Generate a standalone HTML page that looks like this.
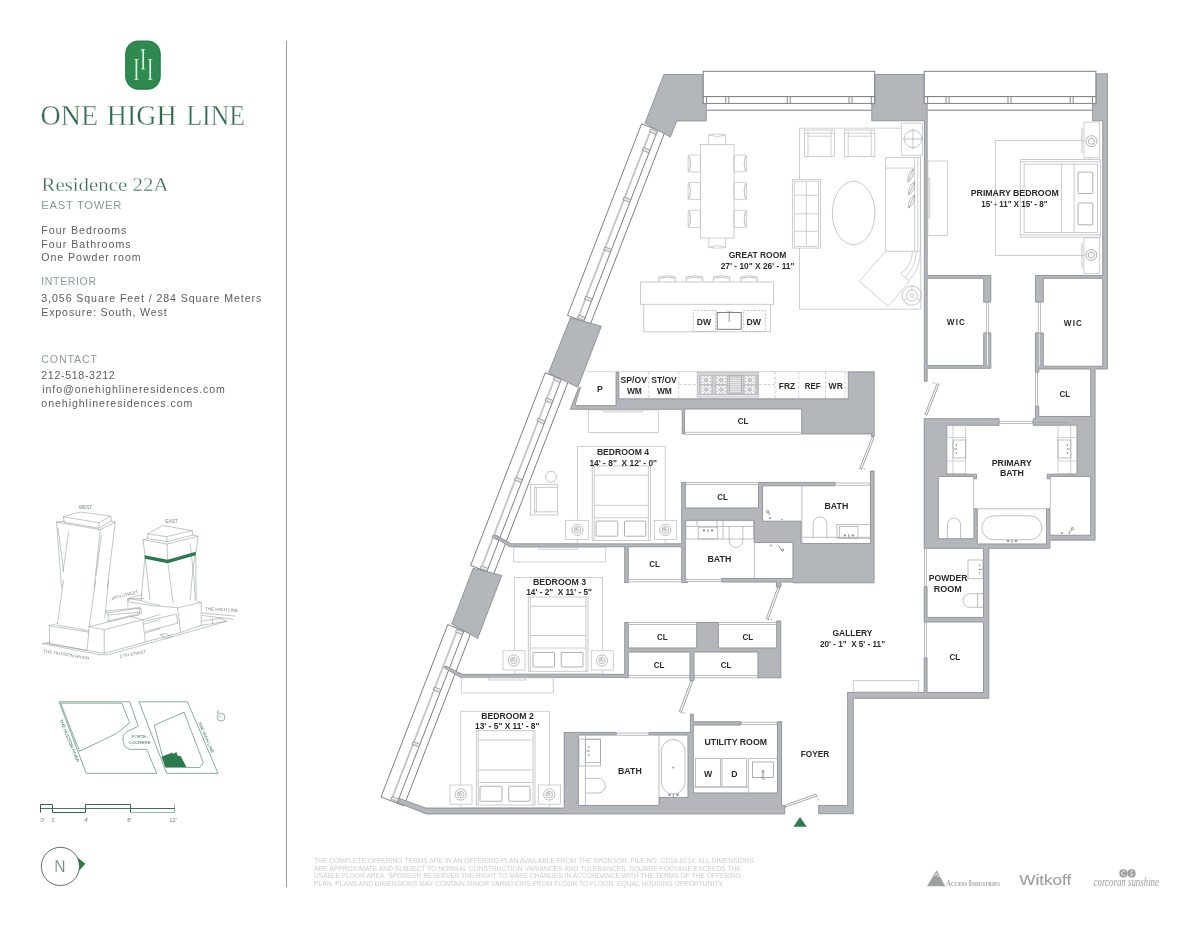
<!DOCTYPE html>
<html lang="en"><head><meta charset="utf-8"><title>One High Line - Residence 22A</title>
<style>
html,body{margin:0;padding:0;background:#fff;}
body{width:1200px;height:927px;overflow:hidden;font-family:"Liberation Sans",sans-serif;}
svg{display:block;will-change:transform;}
text{white-space:pre;}
.lb{font-family:"Liberation Sans",sans-serif;font-weight:bold;fill:#2b2b2b;text-anchor:middle;}
</style></head><body>
<svg width="1200" height="927" viewBox="0 0 1200 927">
<rect width="1200" height="927" fill="#fff"/>
<g id="left-panel">
<line x1="286.5" y1="41" x2="286.5" y2="887" stroke="#9b9da0" stroke-width="1"/>
<rect x="125.1" y="40.6" width="35.7" height="49.1" rx="13" ry="13.6" fill="#2f8a4f"/>
<rect x="126" y="41.5" width="33.9" height="47.3" rx="12.2" ry="12.8" fill="none" stroke="#27784a" stroke-width="0.6"/>
<path d="M136.4 59.3 V79.7" stroke="#dcfbe2" stroke-width="1.7" fill="none"/>
<path d="M134.2 59.6 h4.4 M134.2 79.4 h4.4" stroke="#d9f7df" stroke-width="0.7" fill="none"/>
<path d="M143.2 49.3 V69.2" stroke="#dcfbe2" stroke-width="1.7" fill="none"/>
<path d="M141 49.6 h4.4 M141 68.9 h4.4" stroke="#d9f7df" stroke-width="0.7" fill="none"/>
<path d="M150.2 59.3 V79.7" stroke="#dcfbe2" stroke-width="1.7" fill="none"/>
<path d="M148 59.6 h4.4 M148 79.4 h4.4" stroke="#d9f7df" stroke-width="0.7" fill="none"/>
<path d="M141.2 51.4 l2 -2" stroke="#d9f7df" stroke-width="0.9" fill="none"/>
<text x="40.6" y="125.4" font-family='"Liberation Serif", serif' font-size="29.6" fill="#2f6a4c" textLength="57.5" lengthAdjust="spacingAndGlyphs" stroke="#fff" stroke-width="0.4">ONE</text>
<text x="106.8" y="125.4" font-family='"Liberation Serif", serif' font-size="29.6" fill="#2f6a4c" textLength="70" lengthAdjust="spacingAndGlyphs" stroke="#fff" stroke-width="0.4">HIGH</text>
<text x="186.4" y="125.4" font-family='"Liberation Serif", serif' font-size="29.6" fill="#2f6a4c" textLength="58.6" lengthAdjust="spacingAndGlyphs" stroke="#fff" stroke-width="0.4">LINE</text>
<text x="41.5" y="190.7" font-family='"Liberation Serif", serif' font-size="18.3" fill="#3d6a54" textLength="127" lengthAdjust="spacingAndGlyphs" stroke="#fff" stroke-width="0.3">Residence 22A</text>
<text x="41.3" y="209.3" font-family='"Liberation Sans", sans-serif' font-size="11.2" fill="#8a9b93" textLength="80" lengthAdjust="spacing">EAST TOWER</text>
<text x="41.3" y="234" font-family='"Liberation Sans", sans-serif' font-size="10.6" fill="#5a5d5c" textLength="85" lengthAdjust="spacing">Four Bedrooms</text>
<text x="41.3" y="247.8" font-family='"Liberation Sans", sans-serif' font-size="10.6" fill="#5a5d5c" textLength="89.3" lengthAdjust="spacing">Four Bathrooms</text>
<text x="41.3" y="261.2" font-family='"Liberation Sans", sans-serif' font-size="10.6" fill="#5a5d5c" textLength="99.3" lengthAdjust="spacing">One Powder room</text>
<text x="41.3" y="284.8" font-family='"Liberation Sans", sans-serif' font-size="10.6" fill="#8a9b93" textLength="54.8" lengthAdjust="spacing">INTERIOR</text>
<text x="41.3" y="302.4" font-family='"Liberation Sans", sans-serif' font-size="10.6" fill="#5a5d5c" textLength="220" lengthAdjust="spacing">3,056 Square Feet / 284 Square Meters</text>
<text x="41.3" y="316" font-family='"Liberation Sans", sans-serif' font-size="10.6" fill="#5a5d5c" textLength="125.3" lengthAdjust="spacing">Exposure: South, West</text>
<text x="41.3" y="363.2" font-family='"Liberation Sans", sans-serif' font-size="10.6" fill="#8a9b93" textLength="55.7" lengthAdjust="spacing">CONTACT</text>
<text x="41.3" y="378.9" font-family='"Liberation Sans", sans-serif' font-size="10.6" fill="#5a5d5c" textLength="73.4" lengthAdjust="spacing">212-518-3212</text>
<text x="42.3" y="393.2" font-family='"Liberation Sans", sans-serif' font-size="10.6" fill="#5a5d5c" textLength="182.6" lengthAdjust="spacing">info@onehighlineresidences.com</text>
<text x="41.3" y="406.8" font-family='"Liberation Sans", sans-serif' font-size="10.6" fill="#5a5d5c" textLength="151" lengthAdjust="spacing">onehighlineresidences.com</text>
<g id="tower-sketch">
<polygon points="63.58,516.57 80.13,512.06 110.73,516.07 99.2,522.59" fill="none" stroke="#8c9993" stroke-width="0.55" stroke-linejoin="round" stroke-linecap="round"/>
<polyline points="63.58,516.57 64.08,522.09 98.69,528.11 99.2,522.59" fill="none" stroke="#8c9993" stroke-width="0.55" stroke-linejoin="round" stroke-linecap="round"/>
<polyline points="98.69,528.11 111.24,520.89 110.73,516.07" fill="none" stroke="#8c9993" stroke-width="0.55" stroke-linejoin="round" stroke-linecap="round"/>
<polyline points="64.08,521.29 56.55,522.09 100.2,529.61 115.25,522.09 111.24,520.89" fill="none" stroke="#8c9993" stroke-width="0.55" stroke-linejoin="round" stroke-linecap="round"/>
<polyline points="56.55,522.09 61.57,588.01" fill="none" stroke="#8c9993" stroke-width="0.55" stroke-linejoin="round" stroke-linecap="round"/>
<polyline points="68.59,532.12 63.08,571.25" fill="none" stroke="#8c9993" stroke-width="0.55" stroke-linejoin="round" stroke-linecap="round"/>
<polyline points="58.06,528.11 63.58,571.25" fill="none" stroke="#8c9993" stroke-width="0.55" stroke-linejoin="round" stroke-linecap="round"/>
<polyline points="100.2,529.61 94.18,588.01" fill="none" stroke="#8c9993" stroke-width="0.55" stroke-linejoin="round" stroke-linecap="round"/>
<polyline points="115.25,522.09 107.22,588.01" fill="none" stroke="#8c9993" stroke-width="0.55" stroke-linejoin="round" stroke-linecap="round"/>
<polyline points="101.4,535.13 96.19,575.26" fill="none" stroke="#8c9993" stroke-width="0.55" stroke-linejoin="round" stroke-linecap="round"/>
<polyline points="63.58,580 57.56,623.64" fill="none" stroke="#8c9993" stroke-width="0.55" stroke-linejoin="round" stroke-linecap="round"/>
<polyline points="95.68,580 89.16,626.65 87.16,650.23" fill="none" stroke="#8c9993" stroke-width="0.55" stroke-linejoin="round" stroke-linecap="round"/>
<polyline points="108.73,580 104.71,618.13" fill="none" stroke="#8c9993" stroke-width="0.55" stroke-linejoin="round" stroke-linecap="round"/>
<polyline points="57.56,623.64 49.53,625.65 49.53,643.71 86.15,650.23" fill="none" stroke="#8c9993" stroke-width="0.55" stroke-linejoin="round" stroke-linecap="round"/>
<polyline points="49.53,625.65 88.66,632.17" fill="none" stroke="#8c9993" stroke-width="0.55" stroke-linejoin="round" stroke-linecap="round"/>
<polyline points="57.56,625.15 88.66,630.67" fill="none" stroke="#8c9993" stroke-width="0.55" stroke-linejoin="round" stroke-linecap="round"/>
<polyline points="89.16,626.65 104.21,629.66 104.21,653.24 145.35,642.21 142.84,619.63 104.21,629.66" fill="none" stroke="#8c9993" stroke-width="0.55" stroke-linejoin="round" stroke-linecap="round"/>
<polyline points="89.16,626.65 130.3,616.62 142.84,619.63" fill="none" stroke="#8c9993" stroke-width="0.55" stroke-linejoin="round" stroke-linecap="round"/>
<polyline points="42.51,643.71 49.53,642.21" fill="none" stroke="#8c9993" stroke-width="0.55" stroke-linejoin="round" stroke-linecap="round"/>
<polyline points="42.51,643.71 100.2,654.75 108.23,654.75 160,640.2 226.8,621.2" fill="none" stroke="#8c9993" stroke-width="0.55" stroke-linejoin="round" stroke-linecap="round"/>
<polyline points="46.02,643.01 101.2,653.04 104.21,653.24" fill="none" stroke="#8c9993" stroke-width="0.55" stroke-linejoin="round" stroke-linecap="round"/>
<polyline points="106.22,611.1 139.83,607.59 139.33,612.11 108.23,615.12 106.22,611.1" fill="none" stroke="#8c9993" stroke-width="0.55" stroke-linejoin="round" stroke-linecap="round"/>
<polyline points="108.23,615.12 108.23,621.14" fill="none" stroke="#8c9993" stroke-width="0.55" stroke-linejoin="round" stroke-linecap="round"/>
<polyline points="139.33,612.11 138.83,615.12 130.3,616.62" fill="none" stroke="#8c9993" stroke-width="0.55" stroke-linejoin="round" stroke-linecap="round"/>
<polyline points="127.79,606.59 127.79,598.56 141.84,594.55" fill="none" stroke="#8c9993" stroke-width="0.55" stroke-linejoin="round" stroke-linecap="round"/>
<polyline points="127.79,598.56 141.33,600.57 150.36,603.58 160,605.08" fill="none" stroke="#8c9993" stroke-width="0.55" stroke-linejoin="round" stroke-linecap="round"/>
<polyline points="142.84,619.63 160,614.61" fill="none" stroke="#8c9993" stroke-width="0.55" stroke-linejoin="round" stroke-linecap="round"/>
<polyline points="143.84,624.15 160,619.63" fill="none" stroke="#8c9993" stroke-width="0.55" stroke-linejoin="round" stroke-linecap="round"/>
<polyline points="144.85,633.18 160,628.66" fill="none" stroke="#8c9993" stroke-width="0.55" stroke-linejoin="round" stroke-linecap="round"/>
<polygon points="148.06,533.58 162.61,525.55 192.21,530.57 166.62,536.59" fill="none" stroke="#8c9993" stroke-width="0.55" stroke-linejoin="round" stroke-linecap="round"/>
<polyline points="148.06,533.58 147.56,538.59 167.12,541.6 166.62,536.59" fill="none" stroke="#8c9993" stroke-width="0.55" stroke-linejoin="round" stroke-linecap="round"/>
<polyline points="167.12,541.6 192.71,535.08 192.21,530.57" fill="none" stroke="#8c9993" stroke-width="0.55" stroke-linejoin="round" stroke-linecap="round"/>
<polyline points="147.56,538.59 143.04,539.6 167.12,544.11 198.23,536.29 192.71,535.08" fill="none" stroke="#8c9993" stroke-width="0.55" stroke-linejoin="round" stroke-linecap="round"/>
<polyline points="143.04,539.6 145.05,555.65 141.04,600.3" fill="none" stroke="#8c9993" stroke-width="0.55" stroke-linejoin="round" stroke-linecap="round"/>
<polyline points="145.05,555.65 150.07,600.3" fill="none" stroke="#8c9993" stroke-width="0.55" stroke-linejoin="round" stroke-linecap="round"/>
<polyline points="167.12,544.11 167.62,561.17 173.14,603.01" fill="none" stroke="#8c9993" stroke-width="0.55" stroke-linejoin="round" stroke-linecap="round"/>
<polyline points="198.23,536.29 195.72,552.14 196.22,600.3" fill="none" stroke="#8c9993" stroke-width="0.55" stroke-linejoin="round" stroke-linecap="round"/>
<polyline points="190.2,544.11 194.21,580.23 195.22,600.3" fill="none" stroke="#8c9993" stroke-width="0.55" stroke-linejoin="round" stroke-linecap="round"/>
<polyline points="195.72,552.14 192.71,570.2 190.2,600.3" fill="none" stroke="#8c9993" stroke-width="0.55" stroke-linejoin="round" stroke-linecap="round"/>
<polygon points="144.55,555.15 167.62,559.66 195.72,551.64 195.72,555.15 167.62,563.18 145.05,558.66" fill="#2d7a4c"/>
<polyline points="143.8,598.67 128.42,598.67 128.42,601.75 153.03,605.85 173.53,607.29" fill="none" stroke="#8c9993" stroke-width="0.55" stroke-linejoin="round" stroke-linecap="round"/>
<polyline points="173.53,607.29 177.63,607.9 201.21,602.36 201.21,625.33 180.71,632.51 177.63,607.9" fill="none" stroke="#8c9993" stroke-width="0.55" stroke-linejoin="round" stroke-linecap="round"/>
<polyline points="197.11,601.75 201.21,602.36" fill="none" stroke="#8c9993" stroke-width="0.55" stroke-linejoin="round" stroke-linecap="round"/>
<polyline points="106.89,613.03 140.72,607.9 141.75,613.03 107.92,621.23" fill="none" stroke="#8c9993" stroke-width="0.55" stroke-linejoin="round" stroke-linecap="round"/>
<polyline points="144.82,621.23 176.61,614.05 177.63,623.28 145.85,631.48" fill="none" stroke="#8c9993" stroke-width="0.55" stroke-linejoin="round" stroke-linecap="round"/>
<polyline points="180.71,632.51 145.85,641.73" fill="none" stroke="#8c9993" stroke-width="0.55" stroke-linejoin="round" stroke-linecap="round"/>
<polyline points="201.21,625.33 226.84,621.23 220.69,618.15 201.21,621.23" fill="none" stroke="#8c9993" stroke-width="0.55" stroke-linejoin="round" stroke-linecap="round"/>
<polyline points="202.24,613.03 235.04,616.1" fill="none" stroke="#8c9993" stroke-width="0.55" stroke-linejoin="round" stroke-linecap="round"/>
<polyline points="202.24,615.49 232.99,619.18" fill="none" stroke="#8c9993" stroke-width="0.55" stroke-linejoin="round" stroke-linecap="round"/>
<polyline points="212.49,619.18 212.49,624.3" fill="none" stroke="#8c9993" stroke-width="0.55" stroke-linejoin="round" stroke-linecap="round"/>
<polyline points="160.2,634.56 165.33,633.53 171.48,636.61 166.35,638.66 160.2,634.56" fill="none" stroke="#8c9993" stroke-width="0.55" stroke-linejoin="round" stroke-linecap="round"/>
<text x="85.4" y="508.6" font-family='"Liberation Sans", sans-serif' font-size="4.8" fill="#76867e" text-anchor="middle" transform="rotate(0 85.4 508.6)" textLength="13.5" lengthAdjust="spacingAndGlyphs">WEST</text>
<text x="171.5" y="523" font-family='"Liberation Sans", sans-serif' font-size="4.8" fill="#76867e" text-anchor="middle" transform="rotate(0 171.5 523)" textLength="12.5" lengthAdjust="spacingAndGlyphs">EAST</text>
<text x="125" y="596.5" font-family='"Liberation Sans", sans-serif' font-size="4.3" fill="#76867e" text-anchor="middle" transform="rotate(-14 125 596.5)" textLength="28" lengthAdjust="spacingAndGlyphs">18TH STREET</text>
<text x="221.5" y="611" font-family='"Liberation Sans", sans-serif' font-size="4.3" fill="#76867e" text-anchor="middle" transform="rotate(3 221.5 611)" textLength="33" lengthAdjust="spacingAndGlyphs">THE HIGH LINE</text>
<text x="66" y="656" font-family='"Liberation Sans", sans-serif' font-size="4.3" fill="#76867e" text-anchor="middle" transform="rotate(9 66 656)" textLength="47" lengthAdjust="spacingAndGlyphs">THE HUDSON RIVER</text>
<text x="133" y="655.5" font-family='"Liberation Sans", sans-serif' font-size="4.3" fill="#76867e" text-anchor="middle" transform="rotate(-10 133 655.5)" textLength="27" lengthAdjust="spacingAndGlyphs">17TH STREET</text>
</g>
<g id="site-plan">
<polygon points="59.45,701.78 129.68,701.78 138.29,726.25 126.96,731.46 123.34,735.31 122.89,740.97 125.15,746.64 129.68,749.36 146.67,749.36 156.87,773.37 86.64,773.37" fill="none" stroke="#3a7558" stroke-width="0.6" stroke-linejoin="round" stroke-linecap="round"/>
<polygon points="61.04,703.14 121.75,703.14 129.68,722.85 116.54,733.5 79.84,751.17" fill="none" stroke="#3a7558" stroke-width="0.6" stroke-linejoin="round" stroke-linecap="round"/>
<polygon points="139.42,701.78 187.45,701.78 218.04,773.37 167.06,773.37" fill="none" stroke="#3a7558" stroke-width="0.6" stroke-linejoin="round" stroke-linecap="round"/>
<polygon points="154.6,725.12 184.06,712.2 203.31,762.5 199.91,767.48 165.93,767.48" fill="none" stroke="#3a7558" stroke-width="0.6" stroke-linejoin="round" stroke-linecap="round"/>
<polygon points="161.4,756.83 172.27,752.53 173.18,753.89 176.35,752.08 177.71,755.7 180.88,756.15 186.32,767.03 165.48,767.03" fill="#2d7a4c"/>
<circle cx="220.98" cy="717.19" r="3.9" fill="none" stroke="#3a7558" stroke-width="0.55"/>
<line x1="221" y1="717.2" x2="218.5" y2="716.4" stroke="#3a7558" stroke-width="0.5"/>
<text x="216.8" y="712" font-family='"Liberation Sans", sans-serif' font-size="3.6" fill="#2f6a4c" text-anchor="middle" transform="rotate(80 216.8 712)">N</text>
<text x="68.2" y="741.3" font-family='"Liberation Sans", sans-serif' font-size="4.3" fill="#2f6a4c" text-anchor="middle" transform="rotate(68 68.2 741.3)" textLength="46" lengthAdjust="spacingAndGlyphs">THE HUDSON RIVER</text>
<text x="204.7" y="738" font-family='"Liberation Sans", sans-serif' font-size="4.3" fill="#2f6a4c" text-anchor="middle" transform="rotate(66 204.7 738)" textLength="33.5" lengthAdjust="spacingAndGlyphs">THE HIGH LINE</text>
<text x="139.6" y="738" font-family='"Liberation Sans", sans-serif' font-size="4.1" fill="#2f6a4c" text-anchor="middle" transform="rotate(0 139.6 738)" textLength="16" lengthAdjust="spacingAndGlyphs">PORTE-</text>
<text x="139.6" y="743.8" font-family='"Liberation Sans", sans-serif' font-size="4.1" fill="#2f6a4c" text-anchor="middle" transform="rotate(0 139.6 743.8)" textLength="22" lengthAdjust="spacingAndGlyphs">COCHERE</text>
</g>
<g id="scale-bar">
<path d="M130.5 812.5 H174.5 M130.5 808.5 H174.5 M174.5 803.7 V812.5" fill="none" stroke="#86a294" stroke-width="0.8"/>
<path d="M40.5 812.5 V804.5 H52.5 V812.5 H85.5 V804.5 H130.5 V812.5" fill="none" stroke="#2f6a4c" stroke-width="1"/>
<path d="M40.5 808.5 H174.5" fill="none" stroke="#2f6a4c" stroke-width="0.9"/>
<text x="40.6" y="822.3" font-family='"Liberation Sans", sans-serif' font-size="5.8" fill="#74807a" text-anchor="start" transform="rotate(0 40.6 822.3)">0'</text>
<text x="53.3" y="822.3" font-family='"Liberation Sans", sans-serif' font-size="5.8" fill="#74807a" text-anchor="middle" transform="rotate(0 53.3 822.3)">1'</text>
<text x="86.3" y="822.3" font-family='"Liberation Sans", sans-serif' font-size="5.8" fill="#74807a" text-anchor="middle" transform="rotate(0 86.3 822.3)">4'</text>
<text x="129.4" y="822.3" font-family='"Liberation Sans", sans-serif' font-size="5.8" fill="#74807a" text-anchor="middle" transform="rotate(0 129.4 822.3)">8'</text>
<text x="173" y="822.3" font-family='"Liberation Sans", sans-serif' font-size="5.8" fill="#74807a" text-anchor="middle" transform="rotate(0 173 822.3)">12'</text>
</g>
<g id="compass">
<polygon points="77.6,857.6 85.4,863.8 78.8,871" fill="#2d7a4c"/>
<circle cx="60.4" cy="866.4" r="19.1" fill="#fff" stroke="#3c4a43" stroke-width="0.8"/>
<text x="60" y="871.7" font-family='"Liberation Sans", sans-serif' font-size="15.6" fill="#6b7f74" text-anchor="middle" stroke="#fff" stroke-width="0.25">N</text>
</g>
</g>
<g id="windows" fill="none" stroke="#7c7f83" stroke-width="0.9">
<rect x="703.2" y="71.3" width="171.5" height="25.3" fill="#fff" stroke-width="1"/>
<rect x="703.2" y="96.6" width="171.5" height="6.8" fill="#fff" stroke-width="1"/>
<path d="M706.6 96.6 V103.4 M871.3 96.6 V103.4"/>
<rect x="725.8" y="96.6" width="3" height="6.8" fill="#fff"/>
<rect x="787.25" y="96.6" width="3" height="6.8" fill="#fff"/>
<rect x="849" y="96.6" width="3" height="6.8" fill="#fff"/>
<line x1="706.7" y1="110.2" x2="871.3" y2="110.2" stroke-width="1"/>
<rect x="924.2" y="71.3" width="171.7" height="25.3" fill="#fff" stroke-width="1"/>
<rect x="924.2" y="96.6" width="171.7" height="6.8" fill="#fff" stroke-width="1"/>
<path d="M927.6 96.6 V103.4 M1092.5 96.6 V103.4"/>
<rect x="946" y="96.6" width="3" height="6.8" fill="#fff"/>
<rect x="1008" y="96.6" width="3" height="6.8" fill="#fff"/>
<rect x="1070.2" y="96.6" width="3" height="6.8" fill="#fff"/>
<line x1="927.6" y1="110.2" x2="1092.1" y2="110.2" stroke-width="1"/>
<polygon points="641.62,123.87 664.56,132.75 590.43,324.2 567.49,315.32" fill="#fff" stroke-width="1"/>
<polyline points="650.25,131.5 579.01,315.49" stroke="#c1c3c6" stroke-width="1.8"/>
<polyline points="657.75,130.11 583.62,321.56" stroke-width="1"/>
<polygon points="650.4,128.88 657.21,131.51 656.13,134.31 649.32,131.67" fill="#e6e7e8" stroke="#8a8d91" stroke-width="0.8"/>
<polygon points="643.22,147.43 650.03,150.07 648.94,152.87 642.13,150.23" fill="#e6e7e8" stroke="#8a8d91" stroke-width="0.8"/>
<polygon points="624.04,196.95 630.85,199.59 629.77,202.38 622.96,199.75" fill="#e6e7e8" stroke="#8a8d91" stroke-width="0.8"/>
<polygon points="604.73,246.84 611.53,249.48 610.45,252.28 603.64,249.64" fill="#e6e7e8" stroke="#8a8d91" stroke-width="0.8"/>
<polygon points="585.59,296.27 592.4,298.9 591.31,301.7 584.51,299.06" fill="#e6e7e8" stroke="#8a8d91" stroke-width="0.8"/>
<polygon points="578.37,314.92 585.18,317.55 584.09,320.35 577.28,317.71" fill="#e6e7e8" stroke="#8a8d91" stroke-width="0.8"/>
<polygon points="545.21,372.85 568.15,381.74 493.59,574.3 470.65,565.42" fill="#fff" stroke-width="1"/>
<polyline points="553.84,380.48 482.16,565.59" stroke="#c1c3c6" stroke-width="1.8"/>
<polyline points="561.34,379.1 486.78,571.67" stroke-width="1"/>
<polygon points="554.36,376.93 561.16,379.57 560.08,382.36 553.27,379.73" fill="#e6e7e8" stroke="#8a8d91" stroke-width="0.8"/>
<polygon points="546.23,397.91 553.04,400.55 551.96,403.35 545.15,400.71" fill="#e6e7e8" stroke="#8a8d91" stroke-width="0.8"/>
<polygon points="538.29,418.43 545.1,421.06 544.01,423.86 537.21,421.23" fill="#e6e7e8" stroke="#8a8d91" stroke-width="0.8"/>
<polygon points="515.54,477.18 522.35,479.81 521.26,482.61 514.46,479.98" fill="#e6e7e8" stroke="#8a8d91" stroke-width="0.8"/>
<polygon points="493.15,535 499.96,537.63 498.88,540.43 492.07,537.79" fill="#e6e7e8" stroke="#8a8d91" stroke-width="0.8"/>
<polygon points="481.24,565.77 488.05,568.4 486.96,571.2 480.16,568.57" fill="#e6e7e8" stroke="#8a8d91" stroke-width="0.8"/>
<polygon points="447.72,624.64 470.66,633.52 403.93,805.85 380.99,796.97" fill="#fff" stroke-width="1"/>
<polyline points="456.35,632.27 392.51,797.14" stroke="#c1c3c6" stroke-width="1.8"/>
<polyline points="463.85,630.88 397.13,803.22" stroke-width="1"/>
<polygon points="456.68,629.18 463.49,631.82 462.41,634.61 455.6,631.98" fill="#e6e7e8" stroke="#8a8d91" stroke-width="0.8"/>
<polygon points="434.3,687 441.11,689.63 440.02,692.43 433.21,689.8" fill="#e6e7e8" stroke="#8a8d91" stroke-width="0.8"/>
<polygon points="413.18,741.55 419.98,744.19 418.9,746.99 412.09,744.35" fill="#e6e7e8" stroke="#8a8d91" stroke-width="0.8"/>
<polygon points="391.91,796.48 398.72,799.11 397.63,801.91 390.82,799.28" fill="#e6e7e8" stroke="#8a8d91" stroke-width="0.8"/>
</g>
<g id="walls">
<path d="M847.45 692.45 L847.45 698.3 L847.65 698.3 L847.65 805.45 L818.65 805.45 L818.65 813.75 L853.25 813.75 L853.25 698.3 L988.8 698.3 L988.8 548.3 L1049.95 548.3 L1049.95 540.15 L1095.05 540.15 L1095.05 369.05 L1107.45 369.05 L1107.45 73.85 L1096.35 73.85 L1096.35 103.85 L1092.55 103.85 L1092.55 120.75 L1102.75 120.75 L1102.75 275.45 L1035.45 275.45 L1035.45 302.05 L1043.3 302.05 L1043.3 278.3 L1102.75 278.3 L1102.75 366.2 L1043.3 366.2 L1043.3 332.95 L1035.45 332.95 L1035.45 372.05 L1038.8 372.05 L1038.8 369.05 L1090.7 369.05 L1090.7 416.45 L1038.8 416.45 L1038.8 406.45 L1035.45 406.45 L1035.45 418.7 L1033.25 418.7 L1033.25 425.3 L1077.2 425.3 L1077.2 474.2 L1047.2 474.2 L1047.2 478.85 L1050.05 478.85 L1050.05 476.45 L1090.7 476.45 L1090.7 535.25 L1049.95 535.25 L1049.95 508.75 L1046.45 508.75 L1046.45 543.95 L977.3 543.95 L977.3 508.75 L973.95 508.75 L973.95 538.7 L938.3 538.7 L938.3 476.45 L973.75 476.45 L973.75 478.85 L976.55 478.85 L976.55 474.2 L946.55 474.2 L946.55 425.3 L999.05 425.3 L999.05 418.7 L924.2 418.7 L924.2 548.3 L983.45 548.3 L983.45 617.45 L927.05 617.45 L927.05 586.7 L924.2 586.7 L924.2 622.05 L983.45 622.05 L983.45 692.45 L927.05 692.45 L927.05 657.95 L924.2 657.95 L924.2 692.45 Z M924.2 275.45 L924.2 278.3 L924.35 278.3 L924.35 365.45 L924.2 365.45 L924.2 368.3 L924.35 368.3 L924.35 381.3 L927.15 381.3 L927.15 368.3 L990.8 368.3 L990.8 332.95 L983.7 332.95 L983.7 365.45 L927.15 365.45 L927.15 278.3 L983.7 278.3 L983.7 302.05 L990.8 302.05 L990.8 275.45 L927.15 275.45 L927.15 103.85 L923.75 103.85 L923.75 74.45 L875.15 74.45 L875.15 103.85 L871.75 103.85 L871.75 120.75 L924.35 120.75 L924.35 275.45 Z M801.75 409.05 L801.75 433.95 L871.45 433.95 L871.45 436.55 L874.15 436.55 L874.15 371.85 L848.25 371.85 L848.25 398.85 L618.85 398.85 L618.85 371.95 L616.05 371.95 L616.05 405.65 L574.79 405.65 L580.55 387.11 L578.46 388.22 L570.26 409.3 L682.2 409.3 L682.2 433.95 L684.55 433.95 L684.55 409.05 Z M681.7 543.75 L511.28 543.75 L495.8 535.12 L493.48 536.42 L509.73 546.75 L624.7 546.75 L624.7 582.55 L628.25 582.55 L628.25 546.75 L681.7 546.75 L681.7 582.55 L687.55 582.55 L687.55 579.25 L685.3 579.25 L685.3 520.3 L754.2 520.3 L754.2 542.55 L792.95 542.55 L792.95 578.45 L721.7 578.45 L721.7 582.05 L776.45 582.05 L776.45 587.05 L780.85 587.05 L780.85 582.05 L792.95 582.05 L792.95 582.8 L874.05 582.8 L874.05 470.95 L870.45 470.95 L870.45 543.45 L801.05 543.45 L801.05 521.2 L762.55 521.2 L762.55 485.8 L834.75 485.8 L834.75 482.45 L758.45 482.45 L758.45 507.95 L685.3 507.95 L685.3 484.55 L686.05 484.55 L686.05 482.45 L681.7 482.45 Z M693.3 721.7 L693.3 714.2 L690.45 714.2 L690.45 732.45 L649.2 732.45 L649.2 735.05 L687.95 735.05 L687.95 797.45 L659.2 797.45 L659.2 805.45 L578.3 805.45 L578.3 735.05 L616.3 735.05 L616.3 732.45 L564.2 732.45 L564.2 808.05 L425.82 808.05 L398.69 798.22 L398.18 802.91 L426.38 813.95 L784.75 813.95 L784.75 805.45 L781.55 805.45 L781.55 721.7 L777.45 721.7 L777.45 792.95 L693.3 792.95 L693.3 725.05 L740.8 725.05 L740.8 721.7 Z M446.01 666.11 L443.7 667.41 L460.72 677.35 L624.7 677.35 L624.7 677.8 L628.3 677.8 L628.3 652.05 L689.95 652.05 L689.95 680.55 L694.05 680.55 L694.05 652.05 L757.95 652.05 L757.95 677.8 L780.8 677.8 L780.8 620.95 L776.7 620.95 L776.7 647.95 L718.3 647.95 L718.3 622.45 L696.7 622.45 L696.7 647.95 L628.3 647.95 L628.3 622.45 L624.7 622.45 L624.7 674.35 L462.29 674.35 Z M702.75 103.85 L702.75 74.45 L663.91 74.45 L645.06 123 L670.37 137.06 L676.79 120.95 L706.25 120.95 L706.25 103.85 Z M577.86 387.28 L601.3 326.3 L570.52 317.79 L548.47 372.88 Z M477.67 638.36 L501.8 575.41 L473.18 568.33 L451.76 624 Z" fill="#b3b6bb" stroke="#8c8f94" stroke-width="0.9" fill-rule="evenodd" stroke-linejoin="miter"/>
</g>
<g id="doors" fill="#fff" stroke="#7d8084" stroke-width="0.7">
<polygon points="872.07,437.43 859.67,468.23 861.53,468.97 873.93,438.17"/>
<polygon points="937.07,383.63 924.97,414.43 926.83,415.17 938.93,384.37"/>
<polygon points="777.76,587.45 766.36,618.25 768.24,618.95 779.64,588.15"/>
<polygon points="690.76,681.15 679.36,711.45 681.24,712.15 692.64,681.85"/>
<polygon points="785.54,807.14 816.64,795.94 815.96,794.06 784.86,805.26"/>
<path d="M861 469 h4.5 M767.6 619.4 h5 M680.8 712.8 h5 M817 796 l1.5 4.5 M932.5 382.6 l3.5 0.8" stroke-dasharray="1.6 1.2" fill="none"/>
</g>
<g id="thin" fill="none" stroke="#9fa2a5" stroke-width="0.7">
<rect x="685" y="432.2" width="116.3" height="2.2" fill="#fff"/>
<rect x="685.9" y="482.4" width="72.6" height="2.2" fill="#fff"/>
<rect x="628.7" y="579.6" width="52.6" height="2.2" fill="#fff"/>
<rect x="628.75" y="622.4" width="67.5" height="2.2" fill="#fff"/>
<rect x="718.75" y="622.4" width="57.5" height="2.2" fill="#fff"/>
<rect x="628.75" y="675.6" width="60.75" height="2.2" fill="#fff"/>
<rect x="694.5" y="675.6" width="63" height="2.2" fill="#fff"/>
<rect x="986.3" y="302.5" width="2.4" height="30.5" fill="#fff"/>
<rect x="1038.2" y="302.5" width="2.4" height="30.5" fill="#fff"/>
<rect x="986.6" y="333" width="1.6" height="32.4" fill="#fff"/>
<rect x="1038.4" y="333" width="1.6" height="33" fill="#fff"/>
<rect x="1035.6" y="372.5" width="2" height="33.5" fill="#fff"/>
<rect x="924.4" y="548.75" width="2" height="37.5" fill="#fff"/>
<rect x="924.4" y="622.5" width="2" height="35" fill="#fff"/>
<rect x="999.5" y="421.3" width="33" height="2.2" fill="#fff"/>
<path d="M1032.5 422.4 H1068"/>
<rect x="835.2" y="483" width="34.8" height="2.2" fill="#fff"/>
<rect x="685.9" y="579.4" width="35.35" height="2.2" fill="#fff"/>
<rect x="616.75" y="733" width="32" height="2.2" fill="#fff"/>
<rect x="741.25" y="722.2" width="35.75" height="2.2" fill="#fff"/>
<path d="M801.9 486.25 V543"/>
<path d="M754.5 520.75 V578"/>
<path d="M659 735.5 V805"/>
<path d="M973.6 478.75 V508.3"/>
<path d="M1050.4 478.75 V508.3"/>
<path d="M977.5 508.8 H1046.25"/>
</g>
<g id="furniture" fill="none" stroke="#b9bbbd" stroke-width="0.7">
<rect x="700.4" y="144.4" width="33.6" height="93.6" fill="#fff"/>
<rect x="688.1" y="155" width="12.3" height="16.9" rx="1.2"/>
<path d="M689.3 156 q2.6 7.45 0 14.9"/>
<path d="M688.5 155.4 q3.6 8.05 0 16.1"/>
<rect x="734" y="155" width="12.6" height="16.9" rx="1.2"/>
<path d="M745.4 156 q-2.6 7.45 0 14.9"/>
<path d="M746.2 155.4 q-3.6 8.05 0 16.1"/>
<rect x="688.1" y="182.5" width="12.3" height="17.1" rx="1.2"/>
<path d="M689.3 183.5 q2.6 7.55 0 15.1"/>
<path d="M688.5 182.9 q3.6 8.15 0 16.3"/>
<rect x="734" y="182.5" width="12.6" height="17.1" rx="1.2"/>
<path d="M745.4 183.5 q-2.6 7.55 0 15.1"/>
<path d="M746.2 182.9 q-3.6 8.15 0 16.3"/>
<rect x="688.1" y="210.25" width="12.3" height="17.25" rx="1.2"/>
<path d="M689.3 211.25 q2.6 7.62 0 15.25"/>
<path d="M688.5 210.65 q3.6 8.22 0 16.45"/>
<rect x="734" y="210.25" width="12.6" height="17.25" rx="1.2"/>
<path d="M745.4 211.25 q-2.6 7.62 0 15.25"/>
<path d="M746.2 210.65 q-3.6 8.22 0 16.45"/>
<path d="M708.75 144.4 V134.6 Q717.2 133.4 725.6 134.6 V144.4 M709.4 135.2 q7.8 2.8 15.6 0"/>
<path d="M708.75 238 V247.6 Q717.2 248.8 725.6 247.6 V238 M709.4 247 q7.8 -2.8 15.6 0"/>
<rect x="799.6" y="128.1" width="121.2" height="181"/>
<rect x="804.4" y="130" width="30.2" height="26.5" fill="#fff"/>
<path d="M804.4 133.2 H834.6 M807.8 136.2 H831.2 M808 131 V156.5 M831 131 V156.5"/>
<rect x="844.6" y="130" width="30.2" height="26.5" fill="#fff"/>
<path d="M844.6 133.2 H874.8 M848 136.2 H871.4 M848.2 131 V156.5 M871.2 131 V156.5"/>
<rect x="901.25" y="123.1" width="21.25" height="32.15" fill="#fff"/>
<circle cx="912.9" cy="139" r="8.75" stroke="#aeb0b3"/>
<path d="M912.9 128.6 V149.6 M902.6 139 H923.2" stroke="#aeb0b3"/>
<rect x="792.3" y="179.4" width="28.1" height="68.7" fill="#fff"/>
<rect x="794.2" y="181.2" width="24.4" height="65.2"/>
<path d="M806.3 181.2 V246.4 M794.2 195.3 H818.6 M794.2 213.8 H818.6 M794.2 231.3 H818.6"/>
<ellipse cx="853.6" cy="213" rx="21.3" ry="31.7" fill="#fff" stroke="#aeb0b3"/>
<path d="M885.6 157.5 H920.4 V251.2 M885.6 157.5 V251.3 H921 M885.6 168.1 H914.6 M914.6 157.5 V251.3 M917.8 157.5 V251"/>
<path d="M885.6 251.3 L859.4 281.3 L888.1 306.3 L909.4 281.3"/>
<path d="M912.5 251.3 Q912 266 900.6 273.8 L908.8 280.6 Q920.4 268 920.4 251.3"/>
<path d="M916.4 251.3 Q916 267 904.8 277.4"/>
<path d="M913.1 169 Q906.5 173.86 908.1 181.9 Q914.7 177.04 913.1 169 Z M913.1 169 L908.1 181.9" stroke="#8f9295" stroke-width="0.6"/>
<path d="M914.4 181.9 Q907.53 186.71 908.75 195 Q915.62 190.19 914.4 181.9 Z M914.4 181.9 L908.75 195" stroke="#8f9295" stroke-width="0.6"/>
<path d="M914.4 195 Q907.53 199.81 908.75 208.1 Q915.62 203.29 914.4 195 Z M914.4 195 L908.75 208.1" stroke="#8f9295" stroke-width="0.6"/>
<circle cx="911.9" cy="295.6" r="9.7" stroke="#aeb0b3"/>
<circle cx="911.9" cy="295.6" r="5.4" stroke="#aeb0b3"/>
<circle cx="911.9" cy="295.6" r="1.8" stroke="#aeb0b3"/>
<path d="M911.9 285.9 V290.2 M903.6 300.6 L907.3 298.4 M920.2 300.6 L916.5 298.4" stroke="#aeb0b3"/>
<rect x="640.5" y="282" width="133.25" height="22.25" fill="#fff" stroke="#b4b6b9"/>
<path d="M643.75 304.25 V331.75 H770.5 V304.25" stroke="#b4b6b9"/>
<path d="M658.9 282 V277 Q667.1 274.4 675.3 277 V282 M659.9 278.4 q7.2 -2.6 14.4 0" stroke="#a9abae"/>
<path d="M686.3 282 V277 Q694.5 274.4 702.7 277 V282 M687.3 278.4 q7.2 -2.6 14.4 0" stroke="#a9abae"/>
<path d="M713.4 282 V277 Q721.6 274.4 729.8 277 V282 M714.4 278.4 q7.2 -2.6 14.4 0" stroke="#a9abae"/>
<path d="M740.8 282 V277 Q749 274.4 757.2 277 V282 M741.8 278.4 q7.2 -2.6 14.4 0" stroke="#a9abae"/>
<rect x="693.25" y="310.5" width="22.25" height="21" stroke-dasharray="2.2 1.4" stroke="#a9abae"/>
<rect x="743.25" y="310.5" width="22.15" height="21" stroke-dasharray="2.2 1.4" stroke="#a9abae"/>
<rect x="717.2" y="312.4" width="24" height="16.9" stroke="#6d7074" stroke-width="0.9" fill="#fff"/>
<path d="M729.2 311 V322 M726.6 311 h1 M731 311 h1" stroke="#6d7074"/>
<path d="M585.6 371.6 H615.6 M619.3 371.6 H847.8" stroke="#c4c6c8"/>
<path d="M648.75 372 V398 M678.75 372 V398 M775 372 V398 M798.75 372 V398 M825.5 372 V398 M845 372 V398 M678.75 384.6 H697 M758.75 384.6 H775" stroke-dasharray="3 1.6" stroke="#b9bbbe"/>
<rect x="697.2" y="372.2" width="61.5" height="24.8" fill="#e9eaeb" stroke="#a9abae"/>
<rect x="699" y="375" width="58.3" height="19.7" fill="#d3d5d7" stroke="#a9abae" stroke-width="0.6"/>
<path d="M697.2 373.8 H758.7" stroke="#b9bbbe" stroke-width="0.6"/>
<rect x="699.5" y="375.6" width="13.2" height="18.5" fill="#cfd1d3" stroke="#aeb0b3" stroke-width="0.5"/>
<path d="M701.7 376.2 L710.5 384.2 M710.5 376.2 L701.7 384.2 M700.9 380.2 H711.3 M706.1 376 V384.4" stroke="#fbfbfb" stroke-width="1.5"/>
<circle cx="706.1" cy="380.2" r="1.7" stroke="#8e9194" stroke-width="0.6" fill="#d9dadc"/>
<path d="M701.7 385.6 L710.5 393.6 M710.5 385.6 L701.7 393.6 M700.9 389.6 H711.3 M706.1 385.4 V393.8" stroke="#fbfbfb" stroke-width="1.5"/>
<circle cx="706.1" cy="389.6" r="1.7" stroke="#8e9194" stroke-width="0.6" fill="#d9dadc"/>
<path d="M699.5 384.9 H712.7" stroke="#9a9c9f" stroke-width="0.6"/>
<rect x="715" y="375.6" width="12.3" height="18.5" fill="#cfd1d3" stroke="#aeb0b3" stroke-width="0.5"/>
<path d="M716.75 376.2 L725.55 384.2 M725.55 376.2 L716.75 384.2 M715.95 380.2 H726.35 M721.15 376 V384.4" stroke="#fbfbfb" stroke-width="1.5"/>
<circle cx="721.15" cy="380.2" r="1.7" stroke="#8e9194" stroke-width="0.6" fill="#d9dadc"/>
<path d="M716.75 385.6 L725.55 393.6 M725.55 385.6 L716.75 393.6 M715.95 389.6 H726.35 M721.15 385.4 V393.8" stroke="#fbfbfb" stroke-width="1.5"/>
<circle cx="721.15" cy="389.6" r="1.7" stroke="#8e9194" stroke-width="0.6" fill="#d9dadc"/>
<path d="M715 384.9 H727.3" stroke="#9a9c9f" stroke-width="0.6"/>
<rect x="743.3" y="375.6" width="13.2" height="18.5" fill="#cfd1d3" stroke="#aeb0b3" stroke-width="0.5"/>
<path d="M745.5 376.2 L754.3 384.2 M754.3 376.2 L745.5 384.2 M744.7 380.2 H755.1 M749.9 376 V384.4" stroke="#fbfbfb" stroke-width="1.5"/>
<circle cx="749.9" cy="380.2" r="1.7" stroke="#8e9194" stroke-width="0.6" fill="#d9dadc"/>
<path d="M745.5 385.6 L754.3 393.6 M754.3 385.6 L745.5 393.6 M744.7 389.6 H755.1 M749.9 385.4 V393.8" stroke="#fbfbfb" stroke-width="1.5"/>
<circle cx="749.9" cy="389.6" r="1.7" stroke="#8e9194" stroke-width="0.6" fill="#d9dadc"/>
<path d="M743.3 384.9 H756.5" stroke="#9a9c9f" stroke-width="0.6"/>
<rect x="729.3" y="375.6" width="12.4" height="18.5" fill="#c9cbcd" stroke="#9c9ea1" stroke-width="0.6"/>
<path d="M730 378.2 h11 M730 380.4 h11 M730 382.6 h11 M730 384.8 h11 M730 387 h11 M730 389.2 h11 M730 391.4 h11" stroke="#eceded" stroke-width="1"/>
<rect x="927.9" y="161" width="19.8" height="74.5"/>
<rect x="927.9" y="178.4" width="1.9" height="38.9"/>
<rect x="995.3" y="140.4" width="94.7" height="115"/>
<rect x="1020.2" y="159.4" width="80.1" height="77.7" fill="#fff" stroke="#b2b4b7"/>
<rect x="1024.1" y="164.2" width="73.5" height="68.2" stroke="#b2b4b7"/>
<path d="M1020.2 161.8 H1100.3 M1020.2 234.8 H1100.3 M1061.4 164.2 V232.4 M1074.1 164.2 V232.4" stroke="#b2b4b7"/>
<rect x="1078" y="172.1" width="14.8" height="21.4" rx="0.8" stroke="#8d9093"/>
<rect x="1078" y="203" width="14.8" height="21.8" rx="0.8" stroke="#8d9093"/>
<rect x="1084" y="122.1" width="15.5" height="35.7" fill="#fff"/>
<rect x="1084" y="237.9" width="15.5" height="35.8" fill="#fff"/>
<path d="M1082 127.7 V153 M1082 242.6 V268.4" stroke="#a9abae"/>
<circle cx="1091.5" cy="141.2" r="5.5" stroke="#8d9093"/>
<circle cx="1091.5" cy="141.2" r="3.1" stroke="#8d9093"/>
<circle cx="1091.3" cy="255" r="5.5" stroke="#8d9093"/>
<circle cx="1091.3" cy="255" r="3.1" stroke="#8d9093"/>
<rect x="577.4" y="446.4" width="87.8" height="97.2"/>
<rect x="565.5" y="520.3" width="23.1" height="19.2" fill="#fff"/>
<rect x="654.3" y="520.3" width="22.1" height="19.2" fill="#fff"/>
<rect x="592.2" y="466" width="58.2" height="74.4" fill="#fff" stroke="#b2b4b7"/>
<path d="M594.2 466 V540.4 M648.4 466 V540.4" stroke="#b2b4b7"/>
<path d="M594.2 475.2 H648.4" stroke="#b2b4b7"/>
<path d="M594.2 505.3 H648.4" stroke="#b2b4b7"/>
<path d="M594.2 517.8 H648.4" stroke="#b2b4b7"/>
<rect x="596" y="521.1" width="21.8" height="15.1" rx="0.8" stroke="#8d9093"/>
<rect x="624.5" y="521.1" width="21.3" height="15.1" rx="0.8" stroke="#8d9093"/>
<g stroke="#9a9c9f">
<circle cx="577.4" cy="529.8" r="5.6"/>
<circle cx="577.4" cy="529.8" r="3.25"/>
<circle cx="577.4" cy="529.8" r="1.1"/>
<path d="M575.38 529.8 a2.02 2.02 0 0 1 2.02 -2.02"/>
</g>
<g stroke="#9a9c9f">
<circle cx="665.3" cy="529.8" r="5.6"/>
<circle cx="665.3" cy="529.8" r="3.25"/>
<circle cx="665.3" cy="529.8" r="1.1"/>
<path d="M663.28 529.8 a2.02 2.02 0 0 1 2.02 -2.02"/>
</g>
<rect x="588.25" y="410" width="70" height="22.5"/>
<rect x="603.75" y="410" width="38.75" height="2"/>
<rect x="514.25" y="577.5" width="88.25" height="96.5"/>
<rect x="503" y="650.75" width="22" height="19.25" fill="#fff"/>
<rect x="591.25" y="650.75" width="22" height="19.25" fill="#fff"/>
<rect x="528.25" y="597" width="59.75" height="74.25" fill="#fff" stroke="#b2b4b7"/>
<path d="M530.25 597 V671.25 M586 597 V671.25" stroke="#b2b4b7"/>
<path d="M530.25 606.25 H586" stroke="#b2b4b7"/>
<path d="M530.25 635.5 H586" stroke="#b2b4b7"/>
<path d="M530.25 648 H586" stroke="#b2b4b7"/>
<rect x="533" y="652.5" width="21.5" height="14.5" rx="0.8" stroke="#8d9093"/>
<rect x="561.25" y="652.5" width="21.75" height="14.5" rx="0.8" stroke="#8d9093"/>
<g stroke="#9a9c9f">
<circle cx="513.75" cy="660.5" r="5.6"/>
<circle cx="513.75" cy="660.5" r="3.25"/>
<circle cx="513.75" cy="660.5" r="1.1"/>
<path d="M511.73 660.5 a2.02 2.02 0 0 1 2.02 -2.02"/>
</g>
<g stroke="#9a9c9f">
<circle cx="602" cy="660.5" r="5.6"/>
<circle cx="602" cy="660.5" r="3.25"/>
<circle cx="602" cy="660.5" r="1.1"/>
<path d="M599.98 660.5 a2.02 2.02 0 0 1 2.02 -2.02"/>
</g>
<rect x="513.75" y="547.2" width="92" height="14.8"/>
<rect x="538.75" y="547.2" width="38.75" height="2"/>
<rect x="460.75" y="711.25" width="88.75" height="96.15"/>
<rect x="450" y="785" width="22" height="19.25" fill="#fff"/>
<rect x="538.25" y="785" width="22.25" height="19.25" fill="#fff"/>
<rect x="476.25" y="730.75" width="58.75" height="74.25" fill="#fff" stroke="#b2b4b7"/>
<path d="M478.25 730.75 V805 M533 730.75 V805" stroke="#b2b4b7"/>
<path d="M478.25 740 H533" stroke="#b2b4b7"/>
<path d="M478.25 770 H533" stroke="#b2b4b7"/>
<path d="M478.25 782.5 H533" stroke="#b2b4b7"/>
<rect x="480" y="786.25" width="22" height="15" rx="0.8" stroke="#8d9093"/>
<rect x="508.75" y="786.25" width="21.25" height="15" rx="0.8" stroke="#8d9093"/>
<g stroke="#9a9c9f">
<circle cx="460.75" cy="794.5" r="5.6"/>
<circle cx="460.75" cy="794.5" r="3.25"/>
<circle cx="460.75" cy="794.5" r="1.1"/>
<path d="M458.73 794.5 a2.02 2.02 0 0 1 2.02 -2.02"/>
</g>
<g stroke="#9a9c9f">
<circle cx="549.25" cy="794.5" r="5.6"/>
<circle cx="549.25" cy="794.5" r="3.25"/>
<circle cx="549.25" cy="794.5" r="1.1"/>
<path d="M547.23 794.5 a2.02 2.02 0 0 1 2.02 -2.02"/>
</g>
<rect x="461.25" y="677.8" width="92" height="15.2"/>
<rect x="488.75" y="677.8" width="37" height="2.2"/>
<rect x="530.4" y="484.3" width="27.2" height="30.7" stroke="#b2b4b7"/>
<path d="M534.6 486 V513.4 M534.6 487.4 H557.6 M534.6 511.8 H557.6 M536.4 487.4 V511.8" stroke="#b2b4b7"/>
<circle cx="551" cy="476.8" r="5.5" stroke="#a9abae"/>
<rect x="853.25" y="680.5" width="65.5" height="11.5"/>
<rect x="947" y="425.75" width="18.75" height="48"/>
<path d="M953 425.75 V473.75 M947 437.5 H965.75 M947 461 H965.75"/>
<rect x="953" y="440" width="12.75" height="18" stroke="#a1a3a6"/>
<path d="M954 449 h3.4 M956.4 444 v2 M956.4 452 v2" stroke="#5f6265" stroke-width="0.7"/>
<rect x="1058" y="425.75" width="18.75" height="48"/>
<path d="M1070.8 425.75 V473.75 M1058 437.5 H1076.75 M1058 461 H1076.75"/>
<rect x="1058" y="440" width="12.8" height="18" stroke="#a1a3a6"/>
<path d="M1069.8 449 h-3.4 M1067.4 444 v2 M1067.4 452 v2" stroke="#5f6265" stroke-width="0.7"/>
<path d="M947.4 538.4 V524.6 A6.6 6.6 0 0 1 960.6 524.6 V538.4" stroke="#a1a3a6"/>
<rect x="981.8" y="515.75" width="60" height="24" rx="12" stroke="#a1a3a6"/>
<path d="M1012 543 v-3.4 M1007 540.6 h2 M1015 540.6 h2 M1007.2 540.6 l0.8 1.4 l0.8 -1.4 M1015.2 540.6 l0.8 1.4 l0.8 -1.4" stroke="#5f6265" stroke-width="0.7"/>
<path d="M1061 534 l0.9 -1.6 l0.9 1.6 M1069 534 q0.4 -3.6 3 -4.2" stroke="#5f6265" stroke-width="0.7"/>
<circle cx="1072.4" cy="528.6" r="1.1" stroke="#5f6265" stroke-width="0.7"/>
<path d="M813.2 537.3 V523.7 A6.8 6.8 0 0 1 826.8 523.7 V537.3" stroke="#a1a3a6"/>
<path d="M802.5 537.3 H870.8" stroke="#a1a3a6"/>
<rect x="837" y="524.5" width="33.8" height="13.7" stroke="#a1a3a6"/>
<rect x="839.4" y="526.6" width="18.6" height="11.6" stroke="#a1a3a6"/>
<path d="M848.8 537.4 v-3.4 M843.8 535 h2 M851.8 535 h2 M844 535 l0.8 1.4 l0.8 -1.4 M852 535 l0.8 1.4 l0.8 -1.4" stroke="#5f6265" stroke-width="0.7"/>
<path d="M769 519 l0.9 -1.6 l0.9 1.6 M781 519.4 h1.6 M769.4 515 q0.2 -2.2 -1.4 -2.6" stroke="#5f6265" stroke-width="0.7"/>
<circle cx="767.6" cy="511.6" r="1.1" stroke="#5f6265" stroke-width="0.7"/>
<rect x="685.9" y="520.75" width="67.6" height="18.25" stroke="#a1a3a6"/>
<path d="M685.9 526.4 H753.5 M697 520.75 V526.4 M717 520.75 V526.4 M723 520.75 V539" stroke="#a1a3a6"/>
<rect x="698.2" y="527.1" width="19.55" height="11.9" stroke="#a1a3a6"/>
<path d="M708 532.4 v-3.4 M703 530 h2 M711 530 h2 M703.2 530 l0.8 1.4 l0.8 -1.4 M711.2 530 l0.8 1.4 l0.8 -1.4" stroke="#5f6265" stroke-width="0.7"/>
<path d="M729.2 526.2 V540.7 A6.8 6.8 0 0 0 742.8 540.7 V526.2" stroke="#a1a3a6"/>
<path d="M770 546.4 l0.9 -1.6 l0.9 1.6 M779 546 q0.4 2.6 2.4 3.4" stroke="#5f6265" stroke-width="0.7"/>
<circle cx="782.6" cy="550" r="1.1" stroke="#5f6265" stroke-width="0.7"/>
<rect x="968" y="560" width="15" height="18.75" stroke="#a1a3a6"/>
<path d="M982 569.4 h-3.4 M979.6 564.4 v2 M979.6 572.4 v2" stroke="#5f6265" stroke-width="0.7"/>
<path d="M983 593.7 H969.8 A6.8 6.8 0 0 0 969.8 607.3 H983" stroke="#a1a3a6"/>
<path d="M977.6 594 V607" stroke="#a1a3a6"/>
<path d="M585.4 735.5 V805" stroke="#a1a3a6"/>
<rect x="579" y="739" width="21.4" height="27" stroke="#a1a3a6"/>
<rect x="585.4" y="739.6" width="15" height="22.8" stroke="#a1a3a6"/>
<path d="M586.4 751 h3.4 M588.8 746 v2 M588.8 754 v2" stroke="#5f6265" stroke-width="0.7"/>
<path d="M585.4 778.4 H598.1 A7.3 7.3 0 0 1 598.1 793 H585.4" stroke="#a1a3a6"/>
<rect x="661.4" y="739.6" width="23.6" height="54.4" rx="11.6" stroke="#a1a3a6"/>
<path d="M672 767.6 h2.4 M673.2 766.4 v2.4" stroke="#77797c" stroke-width="0.5"/>
<path d="M673.4 797 v-3.4 M668.4 794.6 h2 M676.4 794.6 h2 M668.6 794.6 l0.8 1.4 l0.8 -1.4 M676.6 794.6 l0.8 1.4 l0.8 -1.4" stroke="#5f6265" stroke-width="0.7"/>
<rect x="695.4" y="758.6" width="25" height="28.4" stroke="#a1a3a6"/>
<rect x="722" y="758.6" width="24.4" height="28.4" stroke="#a1a3a6"/>
<path d="M694 787 H748.4 M748.4 758.6 V792.4 M748.4 758.6 H777" stroke="#a1a3a6"/>
<rect x="752.4" y="762" width="21.2" height="15.4" stroke="#8d9093"/>
<path d="M763 772 v5 M761.4 777.6 l3.4 2" stroke="#5f6265" stroke-width="0.7"/>
<circle cx="763" cy="771.4" r="1.1" stroke="#5f6265" stroke-width="0.7"/>
</g>
<polygon points="800,816.9 793.4,826.7 806.8,826.7" fill="#2b8049"/>
<g id="labels">
<text class="lb" x="757.5" y="258.4" font-size="8.7" textLength="57.5" lengthAdjust="spacingAndGlyphs">GREAT ROOM</text>
<text class="lb" x="757.6" y="269.3" font-size="8.7" textLength="73.75" lengthAdjust="spacingAndGlyphs">27' - 10&quot; X 26' - 11&quot;</text>
<text class="lb" x="1014.75" y="196.3" font-size="8.7" textLength="88" lengthAdjust="spacingAndGlyphs">PRIMARY BEDROOM</text>
<text class="lb" x="1014.4" y="207.2" font-size="8.7" textLength="66.25" lengthAdjust="spacingAndGlyphs">15' - 11&quot; X 15' - 8&quot;</text>
<text class="lb" x="955.9" y="325.2" font-size="8.2" textLength="18.25" lengthAdjust="spacing">WIC</text>
<text class="lb" x="1072.9" y="325.6" font-size="8.2" textLength="18.25" lengthAdjust="spacing">WIC</text>
<text class="lb" x="1064.75" y="397.2" font-size="8.7" textLength="10.7" lengthAdjust="spacingAndGlyphs">CL</text>
<text class="lb" x="1011.75" y="465.6" font-size="8.7" textLength="40" lengthAdjust="spacingAndGlyphs">PRIMARY</text>
<text class="lb" x="1011.9" y="476.4" font-size="8.7" textLength="23.75" lengthAdjust="spacingAndGlyphs">BATH</text>
<text class="lb" x="948.1" y="581.4" font-size="8.7" textLength="38.75" lengthAdjust="spacingAndGlyphs">POWDER</text>
<text class="lb" x="947.75" y="592.2" font-size="8.7" textLength="28" lengthAdjust="spacingAndGlyphs">ROOM</text>
<text class="lb" x="954.75" y="660.2" font-size="8.7" textLength="10.7" lengthAdjust="spacingAndGlyphs">CL</text>
<text class="lb" x="852.5" y="635.6" font-size="8.7" textLength="40" lengthAdjust="spacingAndGlyphs">GALLERY</text>
<text class="lb" x="852.5" y="646.9" font-size="8.7" textLength="65" lengthAdjust="spacingAndGlyphs">20' - 1&quot;  X 5' - 11&quot;</text>
<text class="lb" x="836.4" y="508.9" font-size="8.7" textLength="23.75" lengthAdjust="spacingAndGlyphs">BATH</text>
<text class="lb" x="722.5" y="500.2" font-size="8.7" textLength="10.7" lengthAdjust="spacingAndGlyphs">CL</text>
<text class="lb" x="719.4" y="562.2" font-size="8.7" textLength="23.75" lengthAdjust="spacingAndGlyphs">BATH</text>
<text class="lb" x="654.6" y="566.9" font-size="8.7" textLength="10.7" lengthAdjust="spacingAndGlyphs">CL</text>
<text class="lb" x="662.25" y="640.2" font-size="8.7" textLength="10.7" lengthAdjust="spacingAndGlyphs">CL</text>
<text class="lb" x="747.9" y="640.2" font-size="8.7" textLength="10.7" lengthAdjust="spacingAndGlyphs">CL</text>
<text class="lb" x="659.1" y="667.7" font-size="8.7" textLength="10.7" lengthAdjust="spacingAndGlyphs">CL</text>
<text class="lb" x="726" y="667.7" font-size="8.7" textLength="10.7" lengthAdjust="spacingAndGlyphs">CL</text>
<text class="lb" x="743.1" y="423.9" font-size="8.7" textLength="10.7" lengthAdjust="spacingAndGlyphs">CL</text>
<text class="lb" x="600" y="391.5" font-size="8.7">P</text>
<text class="lb" x="633.75" y="382.6" font-size="8.7" textLength="26.3" lengthAdjust="spacingAndGlyphs">SP/OV</text>
<text class="lb" x="634.4" y="393.6" font-size="8.7" textLength="15" lengthAdjust="spacingAndGlyphs">WM</text>
<text class="lb" x="664" y="382.6" font-size="8.7" textLength="25.6" lengthAdjust="spacingAndGlyphs">ST/OV</text>
<text class="lb" x="664.4" y="393.6" font-size="8.7" textLength="15" lengthAdjust="spacingAndGlyphs">WM</text>
<text class="lb" x="704.1" y="324.7" font-size="8.7" textLength="14.5" lengthAdjust="spacingAndGlyphs">DW</text>
<text class="lb" x="753.75" y="324.7" font-size="8.7" textLength="14.5" lengthAdjust="spacingAndGlyphs">DW</text>
<text class="lb" x="787" y="388.6" font-size="8.7" textLength="16.4" lengthAdjust="spacingAndGlyphs">FRZ</text>
<text class="lb" x="812.7" y="388.6" font-size="8.7" textLength="15.9" lengthAdjust="spacingAndGlyphs">REF</text>
<text class="lb" x="835.7" y="388.6" font-size="8.7" textLength="14.2" lengthAdjust="spacingAndGlyphs">WR</text>
<text class="lb" x="623" y="454.8" font-size="8.7" textLength="52.2" lengthAdjust="spacingAndGlyphs">BEDROOM 4</text>
<text class="lb" x="623.25" y="465.7" font-size="8.7" textLength="67.7" lengthAdjust="spacingAndGlyphs">14' - 8&quot;  X 12' - 0&quot;</text>
<text class="lb" x="559.6" y="584.6" font-size="8.7" textLength="53.25" lengthAdjust="spacingAndGlyphs">BEDROOM 3</text>
<text class="lb" x="559.1" y="595.2" font-size="8.7" textLength="65.75" lengthAdjust="spacingAndGlyphs">14' - 2&quot;  X 11' - 5&quot;</text>
<text class="lb" x="507.5" y="719.4" font-size="8.7" textLength="52.5" lengthAdjust="spacingAndGlyphs">BEDROOM 2</text>
<text class="lb" x="507.25" y="729.2" font-size="8.7" textLength="64.5" lengthAdjust="spacingAndGlyphs">13' - 5&quot; X 11' - 8&quot;</text>
<text class="lb" x="629.9" y="773.9" font-size="8.7" textLength="23.75" lengthAdjust="spacingAndGlyphs">BATH</text>
<text class="lb" x="735.75" y="745.2" font-size="8.7" textLength="62.5" lengthAdjust="spacingAndGlyphs">UTILITY ROOM</text>
<text class="lb" x="708" y="776.9" font-size="8.7">W</text>
<text class="lb" x="734.4" y="776.9" font-size="8.7">D</text>
<text class="lb" x="815" y="757.2" font-size="8.7" textLength="28.5" lengthAdjust="spacingAndGlyphs">FOYER</text>
</g>
<g id="footer">
<text x="314" y="862.9" font-family='"Liberation Sans", sans-serif' font-size="6.9" fill="#cacccd" textLength="440" lengthAdjust="spacingAndGlyphs">THE COMPLETE OFFERING TERMS ARE IN AN OFFERING PLAN AVAILABLE FROM THE SPONSOR. FILE NO. CD16-0214. ALL DIMENSIONS</text>
<text x="314" y="870.65" font-family='"Liberation Sans", sans-serif' font-size="6.9" fill="#cacccd" textLength="427" lengthAdjust="spacingAndGlyphs">ARE APPROXIMATE AND SUBJECT TO NORMAL CONSTRUCTION VARIANCES AND TOLERANCES. SQUARE FOOTAGE EXCEEDS THE</text>
<text x="314" y="878.4" font-family='"Liberation Sans", sans-serif' font-size="6.9" fill="#cacccd" textLength="427" lengthAdjust="spacingAndGlyphs">USABLE FLOOR AREA. SPONSOR RESERVES THE RIGHT TO MAKE CHANGES IN ACCORDANCE WITH THE TERMS OF THE OFFERING</text>
<text x="314" y="886.15" font-family='"Liberation Sans", sans-serif' font-size="6.9" fill="#cacccd" textLength="410" lengthAdjust="spacingAndGlyphs">PLAN. PLANS AND DIMENSIONS MAY CONTAIN MINOR VARIATIONS FROM FLOOR TO FLOOR. EQUAL HOUSING OPPORTUNITY.</text>
<polygon points="927,886.2 936.6,870.2 945.3,886.2" fill="#9c9ea0"/>
<path d="M934.2 876.5 l2.4 -3.2 l1.4 3.6 l1.6 -0.8" stroke="#fff" stroke-width="0.7" fill="none"/>
<text x="946.3" y="886" font-family='"Liberation Serif", serif' font-weight="bold" font-size="7.2" fill="#9c9ea0" textLength="53.8" lengthAdjust="spacingAndGlyphs">A<tspan font-size="5.7">CCESS</tspan> I<tspan font-size="5.7">NDUSTRIES</tspan></text>
<text x="1019.3" y="885.2" font-family='"Liberation Sans", sans-serif' font-size="14.8" fill="#9c9ea0" textLength="52" lengthAdjust="spacingAndGlyphs" stroke="#9c9ea0" stroke-width="0.12">Witkoff</text>
<text x="1093.6" y="885.6" font-family='"Liberation Serif", serif' font-style="italic" font-size="11.6" fill="#9c9ea0" textLength="65.4" lengthAdjust="spacingAndGlyphs">corcoran sunshine</text>
<circle cx="1123.4" cy="873.4" r="4.1" fill="#9c9ea0"/><circle cx="1131.6" cy="873.4" r="4.1" fill="#9c9ea0"/>
<path d="M1125.3 871.8 a2.2 2.2 0 1 0 0 3.2 M1133.4 871.6 c-2.6 -1.6 -3.8 1.2 -1.6 1.8 c2 0.6 1 3 -1.8 1.6" stroke="#fff" stroke-width="0.8" fill="none"/>
</g>
</svg>
</body></html>
